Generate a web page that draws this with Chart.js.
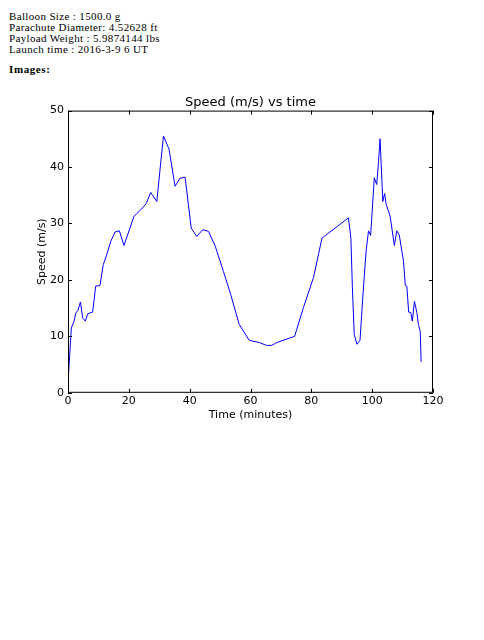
<!DOCTYPE html>
<html>
<head>
<meta charset="utf-8">
<script src="https://cdn.jsdelivr.net/npm/chart.js@4.4.1/dist/chart.umd.min.js"></script>
<style>
  body { margin: 0; background: #fff; overflow: hidden; }
  .info { position: absolute; left: 9px; top: 11px; font-family: "Liberation Serif", "Times New Roman", serif; font-size: 11px; line-height: 11px; letter-spacing: 0.35px; color: #000; }
  .imgs { position: absolute; left: 9px; top: 63px; font-family: "Liberation Serif", serif; font-size: 11px; letter-spacing: 0.6px; font-weight: bold; }
  #wrap { position: absolute; left: 0; top: 92px; width: 484px; height: 329px; }
</style>
</head>
<body>
<div class="info">
  Balloon Size : 1500.0 g<br>
  Parachute Diameter: 4.52628 ft<br>
  Payload Weight : 5.9874144 lbs<br>
  Launch time : 2016-3-9 6 UT
</div>
<div class="imgs">Images:</div>
<div id="wrap"><canvas id="chart"></canvas></div>
<script>
// time in minutes, speed in m/s
const minutes = [0, 1.1, 2.0, 2.6, 3.2, 4.1, 4.8, 5.7, 6.5, 8.1, 9.1, 10.5, 11.6, 12.7, 14.1, 15.5, 16.9, 18.4,
  20.2, 21.7, 23.7, 25.7, 27.2, 29.2, 30.3, 31.4, 33.2, 35.2, 36.8, 38.5, 40.5, 42.3, 44.3, 46.2, 48.4,
  51.1, 53.5, 56.3, 59.6, 62.9, 65.3, 67.0, 68.6, 74.5, 77.4, 80.7, 83.5, 92.2, 93.0, 93.5, 94.1, 95.0,
  96.0, 96.9, 98.0, 98.8, 99.5, 100.7, 101.5, 102.1, 102.6, 103.5, 104.1, 104.6, 105.9, 107.3, 108.1,
  108.9, 110.3, 110.9, 111.4, 112.0, 112.7, 113.2, 113.9, 114.7, 115.2, 115.8, 116.1];
const speed = [1.8, 11.5, 12.7, 14.2, 14.5, 16.1, 13.3, 12.7, 14.0, 14.3, 18.9, 19.0, 22.7, 24.4, 26.9, 28.5, 28.7, 26.1,
  28.9, 31.3, 32.3, 33.5, 35.5, 33.9, 39.8, 45.5, 43.2, 36.6, 38.0, 38.2, 29.2, 27.7, 28.9, 28.6, 26.0,
  21.5, 17.4, 12.1, 9.3, 8.9, 8.4, 8.4, 8.9, 10.0, 15.1, 20.4, 27.4, 31.0, 27.4, 18.6, 10.3, 8.6,
  9.3, 16.8, 25.1, 28.7, 27.9, 38.1, 36.9, 41.0, 45.0, 33.9, 35.3, 33.4, 31.3, 26.1, 28.7,
  28.0, 23.3, 19.0, 18.9, 14.3, 14.2, 12.7, 16.2, 14.2, 12.1, 10.9, 5.5];
const xTicks = [0, 20, 40, 60, 80, 100, 120];
const yTicks = [0, 10, 20, 30, 40, 50];

const points = minutes.map((m, i) => ({ x: m, y: speed[i] }));

// matplotlib-style frame with inward ticks on all sides
const frame = {
  id: "frame",
  afterDraw(chart) {
    const { ctx, chartArea: a, scales } = chart;
    ctx.save();
    ctx.strokeStyle = "#000";
    ctx.lineWidth = 1;
    ctx.strokeRect(a.left + 0.5, a.top + 0.5, a.right - a.left - 1, a.bottom - a.top - 1);
    ctx.beginPath();
    xTicks.forEach(v => {
      const px = Math.round(scales.x.getPixelForValue(v)) + 0.5;
      ctx.moveTo(px, a.bottom); ctx.lineTo(px, a.bottom - 4);
      ctx.moveTo(px, a.top); ctx.lineTo(px, a.top + 4);
    });
    yTicks.forEach(v => {
      const py = Math.round(scales.y.getPixelForValue(v)) + 0.5;
      ctx.moveTo(a.left, py); ctx.lineTo(a.left + 4, py);
      ctx.moveTo(a.right, py); ctx.lineTo(a.right - 4, py);
    });
    ctx.stroke();
    ctx.restore();
  }
};

const font = { family: "'DejaVu Sans', sans-serif", size: 11 };

new Chart(document.getElementById("chart"), {
  type: "line",
  data: {
    datasets: [{
      data: points,
      borderColor: "#0000ff",
      borderWidth: 1,
      pointRadius: 0,
      tension: 0,
      fill: false
    }]
  },
  options: {
    responsive: true,
    maintainAspectRatio: false,
    animation: false,
    layout: { padding: { left: 36, right: 51, top: 0, bottom: 0 } },
    plugins: {
      legend: { display: false },
      tooltip: { enabled: false },
      title: {
        display: true,
        fullSize: false,
        text: "Speed (m/s) vs time",
        color: "#000",
        font: { family: "'DejaVu Sans', sans-serif", size: 13, weight: "normal" },
        padding: { top: 3, bottom: 0 }
      }
    },
    scales: {
      x: {
        type: "linear",
        min: 0, max: 120,
        afterBuildTicks: s => { s.ticks = xTicks.map(v => ({ value: v })); },
        grid: { display: false, drawTicks: false },
        border: { display: false },
        ticks: { color: "#000", font, padding: 2, maxRotation: 0 },
        title: { display: true, text: "Time (minutes)", color: "#000", font: { ...font, lineHeight: 1 }, padding: { top: 0, bottom: 0 } }
      },
      y: {
        min: 0, max: 50,
        afterBuildTicks: s => { s.ticks = yTicks.map(v => ({ value: v })); },
        afterFit: s => { s.width = 32; },
        grid: { display: false, drawTicks: false },
        border: { display: false },
        ticks: { color: "#000", font, padding: 4 },
        title: { display: true, text: "Speed (m/s)", color: "#000", font, padding: { top: 0, bottom: 0 } }
      }
    }
  },
  plugins: [frame]
});
</script>
</body>
</html>
